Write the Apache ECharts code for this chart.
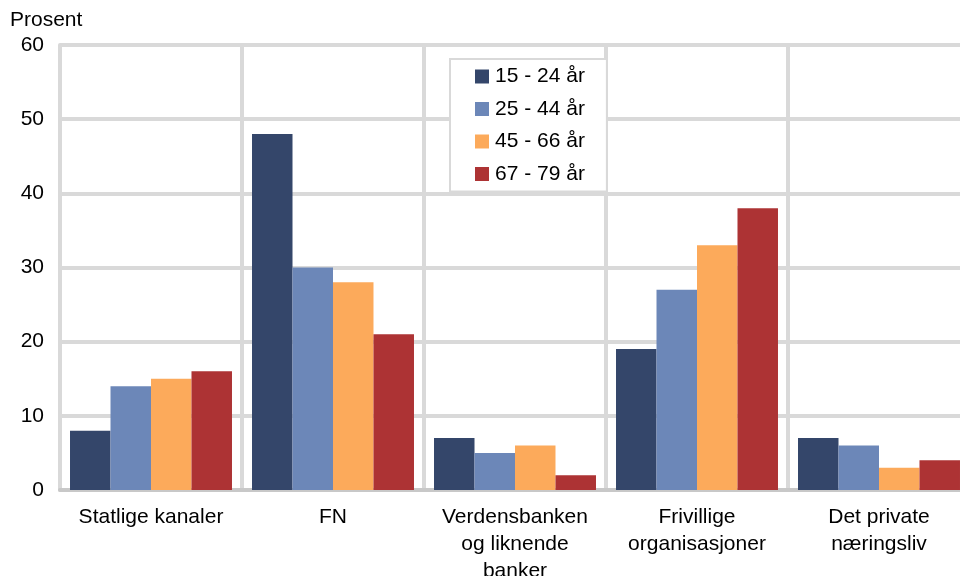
<!DOCTYPE html>
<html>
<head>
<meta charset="utf-8">
<script src="https://cdn.jsdelivr.net/npm/echarts@6/dist/echarts.min.js"></script>
<style>
  html, body { margin: 0; padding: 0; background: #fff; }
  #chart { width: 960px; height: 576px; }
</style>
</head>
<body>
<div id="chart"></div>
<script>
var categories = ['Statlige kanaler', 'FN', 'Verdensbanken\nog liknende\nbanker', 'Frivillige\norganisasjoner', 'Det private\nnæringsliv'];
var ageGroups = ['15 - 24 år', '25 - 44 år', '45 - 66 år', '67 - 79 år'];
var age15_24 = [8, 48, 7, 19, 7];
var age25_44 = [14, 30, 5, 27, 6];
var age45_66 = [15, 28, 6, 33, 3];
var age67_79 = [16, 21, 2, 38, 4];
var colors = ['#34466A', '#6C87B8', '#FCAA5B', '#AD3334'];

var myChart = echarts.init(document.getElementById('chart'));
var allData = [age15_24, age25_44, age45_66, age67_79];

myChart.setOption({
    animation: false,
    textStyle: { fontFamily: 'Liberation Sans, Arial, sans-serif' },
    color: colors,
    grid: { left: 60, right: -10, top: 45, bottom: 86, outerBoundsMode: 'none', containLabel: false },
    legend: {
        data: ageGroups,
        orient: 'vertical',
        left: 450,
        top: 59,
        padding: [7, 22, 7, 25],
        itemGap: 11.5,
        itemWidth: 14,
        itemHeight: 14,
        icon: 'rect',
        backgroundColor: '#fff',
        borderColor: '#D9D9D9',
        borderWidth: 2,
        textStyle: { fontSize: 21, lineHeight: 21, color: '#000', padding: [0, 0, 0, 1] }
    },
    xAxis: {
        type: 'category',
        data: categories,
        axisTick: { show: false },
        axisLine: { lineStyle: { color: '#C8C8C8', width: 4 } },
        axisLabel: { fontSize: 21, color: '#000', lineHeight: 27, margin: 14, interval: 0 },
        splitLine: { show: true, lineStyle: { color: '#D9D9D9', width: 4 } }
    },
    yAxis: {
        type: 'value',
        min: 0,
        max: 60,
        interval: 10,
        name: 'Prosent',
        nameLocation: 'end',
        nameGap: 14,
        nameTextStyle: { fontSize: 21, color: '#000', align: 'left', padding: [0, 0, 0, -50] },
        axisLine: { show: true, lineStyle: { color: '#D9D9D9', width: 4 } },
        axisTick: { show: false },
        axisLabel: { fontSize: 21, color: '#000', margin: 16 },
        splitLine: { lineStyle: { color: '#D9D9D9', width: 4 } }
    },
    series: ageGroups.map(function (name, i) {
        return {
            name: name,
            type: 'bar',
            data: allData[i],
            barGap: '0%',
            barCategoryGap: '11%',
            itemStyle: { color: colors[i] }
        };
    })
});
</script>
</body>
</html>
